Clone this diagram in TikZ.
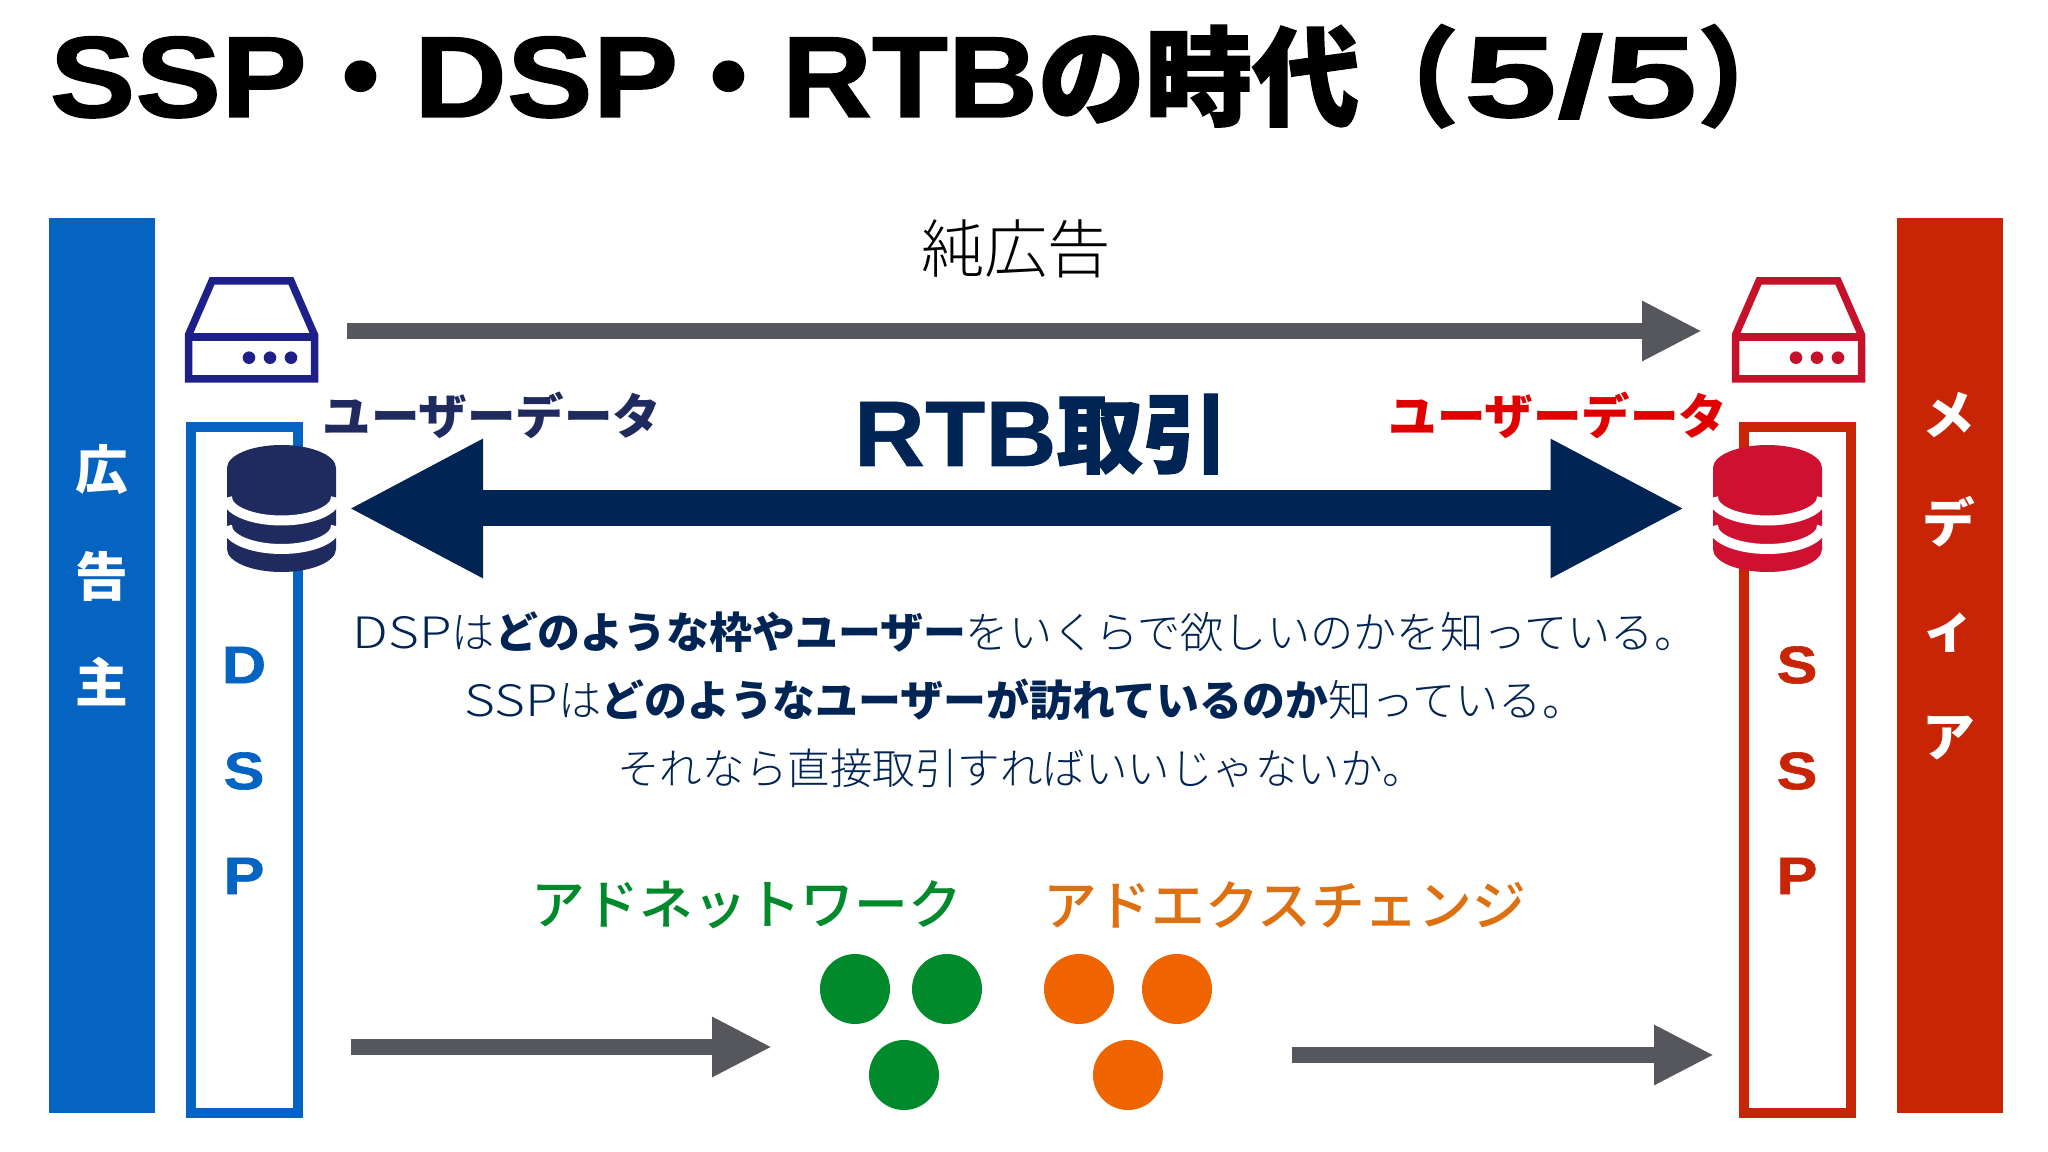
\documentclass[tikz,border=0pt]{standalone}
\usepackage{fontspec}
\setmainfont[BoldFont={Noto Sans CJK JP Black}]{Noto Sans CJK JP Light}
\newfontfamily\jpblack[FakeBold=1.5]{Noto Sans CJK JP Black}
\newfontfamily\jpmed{Noto Sans CJK JP Medium}
\newfontfamily\jplatin[FakeStretch=1.23]{Noto Sans CJK JP Light}
\newfontfamily\ltblack[FakeStretch=1.115,FakeBold=1.2]{Liberation Sans Bold}
\newfontfamily\ltnarrow[FakeStretch=1.08,FakeBold=1.2]{Liberation Sans Bold}
\newfontfamily\ltwide[FakeStretch=1.46,FakeBold=1.2]{Liberation Sans Bold}
\newfontfamily\ltrtb[FakeStretch=1.06,FakeBold=0.6]{Liberation Sans Bold}
\newfontfamily\ltside[FakeStretch=1.16,FakeBold=1.2]{Liberation Sans Bold}
\usetikzlibrary{arrows.meta,positioning,calc}
\definecolor{mBlue}{HTML}{0563C1}
\definecolor{mRust}{HTML}{C82506}
\definecolor{mGrey}{HTML}{55575C}
\definecolor{mNavy}{HTML}{002454}
\definecolor{mIndigo}{HTML}{1F2A5E}
\definecolor{mInk}{HTML}{1D2088}
\definecolor{mCrimson}{HTML}{C5112A}
\definecolor{mRose}{HTML}{CE1131}
\definecolor{mRed}{HTML}{E00000}
\definecolor{mGreen}{HTML}{008A2B}
\definecolor{mOrange}{HTML}{F06400}
\definecolor{mAmber}{HTML}{DD7010}
\newcommand{\bodybf}[1]{{\fontsize{12.2}{14}\selectfont\bfseries #1}}
\tikzset{
  txt/.style    = {inner sep=0pt, text=black},
  barlbl/.style = {txt, text=white, font=\fontsize{15}{16}\selectfont\bfseries},
  sidelbl/.style= {txt, font=\fontsize{15}{16}\selectfont\ltside},
  datalbl/.style= {txt, font=\fontsize{13.8}{14}\selectfont\bfseries},
  bodylbl/.style= {txt, text=mNavy, font=\fontsize{12.3}{14}\selectfont},
  netlbl/.style = {txt, font=\fontsize{15.3}{16}\selectfont\jpmed},
  frm/.style    = {line width=0.105cm},
  gar/.style    = {-{Triangle[length=0.6cm,width=0.56cm]}, draw=mGrey, line width=0.165cm},
  nar/.style    = {{Triangle[length=1.35cm,width=1.29cm]}-{Triangle[length=1.35cm,width=1.29cm]},
                   draw=mNavy, line width=0.36cm},
  dot/.style    = {circle, minimum size=0.7cm, inner sep=0pt},
  server/.pic   = {
    \draw[#1, line width=0.075cm, miter limit=4] (0.035,0.56) -- (0.27,0.02) -- (1.06,0.02)
      -- (1.295,0.56) -- (1.295,1.0) -- (0.035,1.0) -- cycle;
    \draw[#1, line width=0.08cm] (0.035,0.58) -- (1.295,0.58);
    \foreach \x in {0.64,0.85,1.06}
      \fill[#1] (\x,0.787) circle (0.063);
  },
  dbstack/.pic  = {
    \fill[#1] (0,0.23) arc[start angle=180, end angle=360, x radius=0.545, y radius=0.23]
      -- (1.09,1.04) arc[start angle=0, end angle=180, x radius=0.545, y radius=0.23] -- cycle;
    \foreach \y in {0.525,0.81}
      \draw[white, line width=0.1cm] (0,\y) arc[start angle=180, end angle=0, x radius=0.545, y radius=0.23];
  },
}
\begin{document}
\begin{tikzpicture}[y=-1cm]
  \useasboundingbox[fill=white] (0,0) rectangle (20.48,11.52);
  % title
  \node[txt, anchor=base west] (title) at (0.49,1.17)
       {\fontsize{32.8}{33}\selectfont{\ltblack SSP}\fontsize{30.5}{33}\selectfont{\jpblack ・}\fontsize{32.8}{33}\selectfont{\ltblack DSP}\hspace{-1pt}\fontsize{30.5}{33}\selectfont{\jpblack ・}\fontsize{32.8}{33}\selectfont{\ltnarrow RTB}\fontsize{30.5}{33}\selectfont{\jpblack の時代}\hspace{-2.3pt}{\jpblack （}\fontsize{32.8}{33}\selectfont\hspace{1.4pt}{\ltwide 5/5}\fontsize{30.5}{33}\selectfont{\jpblack ）}};
  % side bars
  \fill[mBlue] (0.49,2.18) rectangle (1.55,11.13);
  \fill[mRust] (18.97,2.18) rectangle (20.03,11.13);
  \foreach \n/\y/\t in {a/4.7/広,b/5.76/告,c/6.82/主}
    \node[barlbl] (adv\n) at (1.02,\y) {\t};
  \foreach \n/\y/\t in {a/4.15/メ,b/5.22/デ,c/6.33/ィ,d/7.38/ア}
    \node[barlbl] (med\n) at (19.49,\y) {\t};
  % DSP and SSP frames
  \draw[frm, mBlue] (1.91,4.27) rectangle (2.98,11.13);
  \draw[frm, mRust] (17.44,4.27) rectangle (18.51,11.13);
  \foreach \n/\y/\t in {a/6.65/D,b/7.71/S,c/8.76/P}
    \node[sidelbl, text=mBlue] (dsp\n) at (2.44,\y) {\t};
  \foreach \n/\y/\t in {a/6.65/S,b/7.71/S,c/8.76/P}
    \node[sidelbl, text=mRust] (ssp\n) at (17.97,\y) {\t};
  % icons
  \pic at (1.85,2.79) {server=mInk};
  \pic at (17.32,2.79) {server=mCrimson};
  \pic at (2.27,4.45) {dbstack=mIndigo};
  \pic at (17.13,4.45) {dbstack=mRose};
  % top row
  \node[txt, font=\fontsize{18}{20}\selectfont] (pure) at (10.16,2.49) {純広告};
  \coordinate (pureL) at (3.47,3.31);
  \coordinate (pureR) at (17.02,3.31);
  \draw[gar] (pureL) -- (pureR);
  \node[datalbl, text=mIndigo] (dataL) at (4.92,4.15) {ユーザーデータ};
  \node[datalbl, text=mRed] (dataR) at (15.58,4.15) {ユーザーデータ};
  % RTB
  \node[txt, text=mNavy, anchor=base west] (rtb) at (8.53,4.66)
       {\fontsize{26.5}{28}\selectfont{\ltrtb RTB}\fontsize{24.5}{28}\selectfont{\jpblack 取引}};
  \coordinate (rtbL) at (3.48,5.085);
  \coordinate (rtbR) at (16.855,5.085);
  \draw[nar] (rtbL) -- (rtbR);
  % body text
  \node[bodylbl] (lineA) at (10.25,6.32) {{\jplatin DSP}は\bodybf{どのような枠やユーザー}をいくらで欲しいのかを知っている。};
  \node[bodylbl] (lineB) at (10.25,7.0) {{\jplatin SSP}は\bodybf{どのようなユーザーが訪れているのか}知っている。};
  \node[bodylbl, font=\fontsize{12.1}{14}\selectfont] (lineC) at (10.21,7.68) {それなら直接取引すればいいじゃないか。};
  % networks
  \node[netlbl, text=mGreen] (adnet) at (7.47,9.05) {アドネットワーク};
  \node[netlbl, text=mAmber] (adex) at (12.85,9.05) {アドエクスチェンジ};
  \foreach \n/\x/\y in {a/8.55/9.89,b/9.47/9.89,c/9.04/10.75}
    \node[dot, fill=mGreen] (net\n) at (\x,\y) {};
  \foreach \n/\x/\y in {a/10.79/9.89,b/11.77/9.89,c/11.28/10.75}
    \node[dot, fill=mOrange] (ex\n) at (\x,\y) {};
  \coordinate (lowA) at (3.51,10.47);
  \coordinate (lowB) at (7.72,10.47);
  \coordinate (lowC) at (12.92,10.55);
  \coordinate (lowD) at (17.14,10.55);
  \draw[gar] (lowA) -- (lowB);
  \draw[gar] (lowC) -- (lowD);
\end{tikzpicture}
\end{document}
